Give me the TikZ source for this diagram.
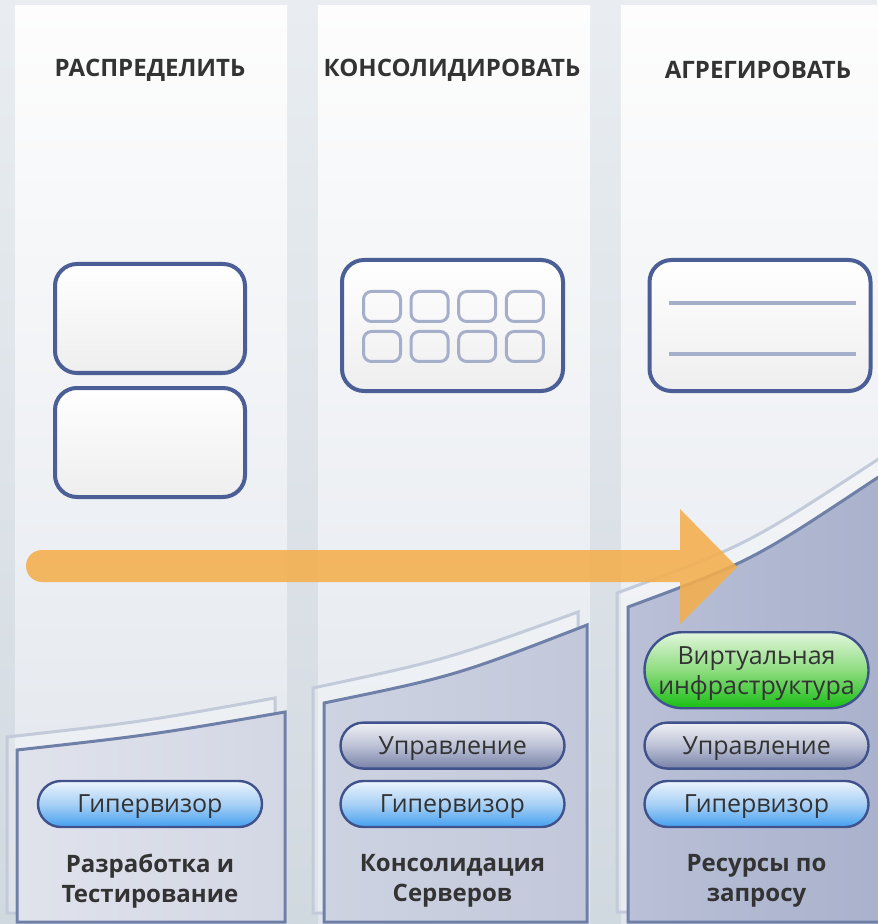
\documentclass[tikz,border=0pt]{standalone}
\usepackage{fontspec}
\setmainfont{Open Sans}
\usepackage{tikz}
\usetikzlibrary{shapes, positioning}
\definecolor{bgtop}{HTML}{E9EDF1}
\definecolor{bgbottom}{HTML}{D1D9E0}
\definecolor{coltop}{HTML}{FDFDFD}
\definecolor{colbottom}{HTML}{E0E5EC}
\definecolor{backedge}{HTML}{C3CADA}
\definecolor{paneledge}{HTML}{6F80A8}
\definecolor{frameblue}{HTML}{4B5E95}
\definecolor{slotblue}{HTML}{A6AFC9}
\definecolor{boxbottom}{HTML}{EEEEEE}
\definecolor{pilledge}{HTML}{3F528C}
\definecolor{ink}{HTML}{333333}
\definecolor{flow}{HTML}{F4AE4C}
\definecolor{hyptop}{HTML}{ECF4FC}
\definecolor{hypmid}{HTML}{A8D0F5}
\definecolor{hypbottom}{HTML}{45A0F0}
\definecolor{mgmttop}{HTML}{F0F1F5}
\definecolor{mgmtmid}{HTML}{BCC1D5}
\definecolor{mgmtbottom}{HTML}{7882A8}
\definecolor{virttop}{HTML}{E2F6DC}
\definecolor{virtmid}{HTML}{8EDC80}
\definecolor{virtbottom}{HTML}{18BE14}
\definecolor{devleft}{HTML}{E0E3EC}
\definecolor{devright}{HTML}{D3D7E4}
\definecolor{consleft}{HTML}{CED3E2}
\definecolor{consright}{HTML}{C2C8DA}
\definecolor{resleft}{HTML}{B9C0D7}
\definecolor{resright}{HTML}{A9B1CC}
\tikzset{
  label_font/.style = {font=\fontsize{12.5}{15}\selectfont},
  title_font/.style = {font=\fontsize{12}{15}\selectfont\bfseries},
  caption_font/.style = {font=\fontsize{12}{15}\selectfont\bfseries},
  ink_text/.style = {text=ink}
}
\tikzset{
  column/.style = {top color=coltop, bottom color=colbottom},
  header/.style = {title_font, ink_text, align=center},
  caption/.style = {caption_font, ink_text, align=center},
  vm_box/.style = {draw=frameblue, line width=2pt, rounded corners=11pt,
    top color=white, bottom color=boxbottom, minimum width=95pt, minimum height=54.5pt},
  wide_box/.style = {vm_box, minimum width=110.5pt, minimum height=65.5pt},
  slot/.style = {draw=slotblue, line width=1.5pt, rounded corners=4pt,
    minimum width=18.5pt, minimum height=15pt, inner sep=0pt},
  pool_line/.style = {draw=slotblue, line width=2pt},
  pill/.style = {label_font, ink_text, align=center, rounded rectangle, draw=pilledge,
    line width=1.2pt, minimum width=112pt, minimum height=23pt, inner sep=0pt, text depth=0pt},
  hyp_pill/.style = {pill, top color=hyptop, bottom color=hypbottom, middle color=hypmid},
  mgmt_pill/.style = {pill, top color=mgmttop, bottom color=mgmtbottom, middle color=mgmtmid},
  virt_pill/.style = {pill, minimum height=38pt, top color=virttop,
    bottom color=virtbottom, middle color=virtmid},
  panel_back/.style = {draw=backedge, line width=1.5pt, fill=white, fill opacity=0.25},
  panel_front/.style = {draw=paneledge, line width=1.5pt},
  flow_arrow/.style = {fill=flow, opacity=0.88}
}

\begin{document}
\begin{tikzpicture}[x=0.5pt, y=-0.5pt, node distance=5pt]

        \useasboundingbox (0,0) rectangle (877,924);
        \fill[top color=bgtop, bottom color=bgbottom] (0,0) rectangle (877,924);

        % Columns
        \path[column] (15,6) rectangle (287,930);
        \path[column] (318,6) rectangle (590,930);
        \path[column] (621,6) rectangle (880,930);

        \node[header] at (150,70) (head_split) {РАСПРЕДЕЛИТЬ};
        \node[header] at (452,70) (head_cons) {КОНСОЛИДИРОВАТЬ};
        \node[header] at (758,70) (head_aggr) {АГРЕГИРОВАТЬ};

        % Servers
        \node[vm_box] at (150,318.5) (vm_a) {};
        \node[vm_box, below=5.5pt of vm_a] (vm_b) {};

        \node[wide_box] at (452.5,325.5) (host_c) {};
        \foreach \i in {0,...,3}
          \foreach \j in {0,1}
            \node[slot] at ({382+47.6*\i},{306.5+40*\j}) (slot_\i_\j) {};

        \node[wide_box] at (760,325.5) (pool) {};
        \draw[pool_line] (669,303) -- (856,303);
        \draw[pool_line] (669,354) -- (856,354);

        % Panels
        \draw[panel_back] (7,913) -- (7,737) .. controls (141,722) .. (275,698) -- (275,913) -- cycle;
        \draw[panel_back] (313,913) -- (313,688) .. controls (445,660) .. (578,612) -- (578,913) -- cycle;
        \draw[panel_back] (617,912) -- (617,593) .. controls (747,545) .. (877,460) -- (884,456) -- (884,912) -- cycle;

        \draw[panel_front, left color=devleft, right color=devright]
          (17,922) -- (17,750) .. controls (151,735) .. (285,712) -- (285,922) -- cycle;
        \draw[panel_front, left color=consleft, right color=consright]
          (324,922) -- (324,703) .. controls (455,676) .. (587,625) -- (587,922) -- cycle;
        \draw[panel_front, left color=resleft, right color=resright]
          (628,922) -- (628,607) .. controls (752,561) .. (877,478) -- (886,473) -- (886,922) -- cycle;

        % Layers
        \node[hyp_pill] at (150,804) (hyp_a) {Гипервизор};

        \node[hyp_pill] at (452.5,804) (hyp_b) {Гипервизор};
        \node[mgmt_pill, above=of hyp_b] (mgmt_b) {Управление};

        \node[hyp_pill] at (756.5,804) (hyp_c) {Гипервизор};
        \node[mgmt_pill, above=of hyp_c] (mgmt_c) {Управление};
        \node[virt_pill, above=6pt of mgmt_c] (virt_c) {Виртуальная\\инфраструктура};

        \node[caption] at (150,881) (cap_a) {Разработка и\\Тестирование};
        \node[caption] at (452.5,881) (cap_b) {Консолидация\\Серверов};
        \node[caption] at (756.5,881) (cap_c) {Ресурсы по\\запросу};

        % Arrow
        \fill[flow_arrow] (680,550) [rounded corners=8pt] -- (26,550) -- (26,582)
          [sharp corners] -- (680,582) -- (680,624) -- (737,567) -- (680,509) -- cycle;

\end{tikzpicture}
\end{document}
